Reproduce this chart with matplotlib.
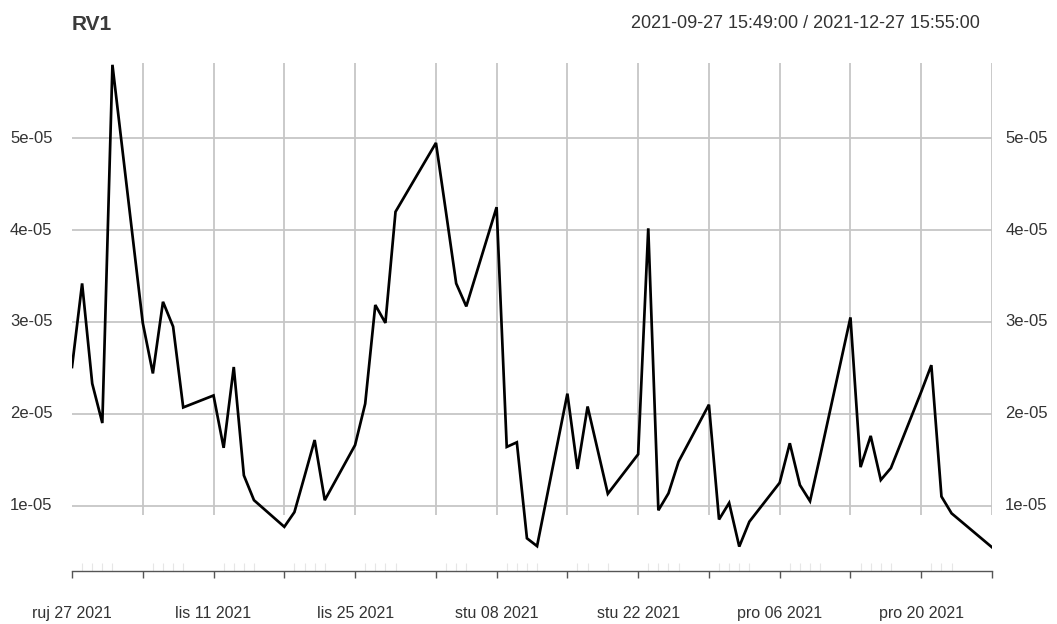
import matplotlib
matplotlib.use("Agg")
import matplotlib.pyplot as plt
import matplotlib.dates as mdates
import pandas as pd
import numpy as np

plt.rcParams['font.family'] = ['Liberation Sans', 'DejaVu Sans']

# ---------------- data ----------------
dates = ["2021-09-27", "2021-09-28", "2021-09-29", "2021-09-30", "2021-10-01",
         "2021-10-04", "2021-10-05", "2021-10-06", "2021-10-07", "2021-10-08",
         "2021-10-11", "2021-10-12", "2021-10-13", "2021-10-14", "2021-10-15",
         "2021-10-18", "2021-10-19", "2021-10-20", "2021-10-21", "2021-10-22",
         "2021-10-25", "2021-10-26", "2021-10-27", "2021-10-28", "2021-10-29",
         "2021-11-02", "2021-11-03", "2021-11-04", "2021-11-05",
         "2021-11-08", "2021-11-09", "2021-11-10", "2021-11-11", "2021-11-12",
         "2021-11-15", "2021-11-16", "2021-11-17", "2021-11-19",
         "2021-11-22", "2021-11-23", "2021-11-24", "2021-11-25", "2021-11-26",
         "2021-11-29", "2021-11-30", "2021-12-01", "2021-12-02", "2021-12-03",
         "2021-12-06", "2021-12-07", "2021-12-08", "2021-12-09", "2021-12-10",
         "2021-12-13", "2021-12-14", "2021-12-15", "2021-12-16", "2021-12-17",
         "2021-12-20", "2021-12-21", "2021-12-22", "2021-12-23", "2021-12-27"]

rv1 = [2.51e-5, 3.42e-5, 2.33e-5, 1.90e-5, 5.80e-5,
       2.99e-5, 2.44e-5, 3.22e-5, 2.95e-5, 2.07e-5,
       2.20e-5, 1.63e-5, 2.51e-5, 1.33e-5, 1.06e-5,
       0.77e-5, 0.93e-5, 1.32e-5, 1.715e-5, 1.06e-5,
       1.66e-5, 2.11e-5, 3.185e-5, 2.99e-5, 4.20e-5,
       4.95e-5, 4.19e-5, 3.42e-5, 3.17e-5,
       4.25e-5, 1.64e-5, 1.69e-5, 0.645e-5, 0.56e-5,
       2.22e-5, 1.40e-5, 2.08e-5, 1.13e-5,
       1.56e-5, 4.02e-5, 0.95e-5, 1.135e-5, 1.48e-5,
       2.10e-5, 0.85e-5, 1.03e-5, 0.555e-5, 0.826e-5,
       1.25e-5, 1.68e-5, 1.225e-5, 1.05e-5, 1.54e-5,
       3.05e-5, 1.42e-5, 1.76e-5, 1.28e-5, 1.41e-5,
       2.24e-5, 2.53e-5, 1.10e-5, 0.917e-5, 0.547e-5]

y_ticks = [1e-5, 2e-5, 3e-5, 4e-5, 5e-5]
y_tick_labels = ["1e-05", "2e-05", "3e-05", "4e-05", "5e-05"]
month_abbr = ["sij", "velj", "ožu", "tra", "svi", "lip",
              "srp", "kol", "ruj", "lis", "stu", "pro"]
series_name = "RV1"
range_text = "2021-09-27 15:49:00 / 2021-12-27 15:55:00"

# ---------------- layout ----------------
W, H = 1057, 624
fig = plt.figure(figsize=(W / 100, H / 100), dpi=100)
left_px, right_px, top_px, bottom_px = 72, 992, 63, 571
ax = fig.add_axes([left_px / W, 1 - bottom_px / H,
                   (right_px - left_px) / W, (bottom_px - top_px) / H])

t = pd.to_datetime(dates) + pd.Timedelta(hours=15, minutes=50)
x = mdates.date2num(t.to_pydatetime())

# y scale: 1e-05 at px 505.7, 91.85 px per 1e-05
px_per = 91.85 / 1e-5
y_top = 1e-5 + (505.7 - top_px) / px_per
y_bot = 1e-5 - (bottom_px - 505.7) / px_per
grid_bot = 1e-5 - (515 - 505.7) / px_per
ax.set_xlim(x[0], x[-1])
ax.set_ylim(y_bot, y_top)

# major ticks: first observation of each week
wk = t.to_period('W')
first_idx = [i for i in range(len(t)) if i == 0 or wk[i] != wk[i - 1]]
major_x = x[first_idx]
major_labels = []
for k, i in enumerate(first_idx):
    if k % 2 == 0:
        d = t[i]
        major_labels.append(f"{month_abbr[d.month - 1]} {d.day:02d} {d.year}")
    else:
        major_labels.append("")

grid_col = "#c6c6c6"
ax.hlines(y_ticks, x[0], x[-1], colors=grid_col, lw=1.3, zorder=1)
ax.vlines(major_x[1:], grid_bot, y_top, colors=grid_col, lw=1.3, zorder=1)

ax.plot(x, rv1, color="black", lw=1.95, solid_joinstyle="miter", zorder=3)

for s in ["top", "left", "right"]:
    ax.spines[s].set_visible(False)
ax.spines["bottom"].set_color("#555555")
ax.spines["bottom"].set_linewidth(1.0)

ax.set_xticks(major_x)
ax.set_xticklabels(major_labels)
ax.set_xticks(x, minor=True)
ax.tick_params(axis="x", which="major", direction="out", length=5,
               width=1.0, color="#555555", pad=20, labelsize=11.5,
               labelcolor="#333333")
ax.tick_params(axis="x", which="minor", direction="in", length=5.5,
               width=0.8, color="#e6e6e6")
ax.set_yticks([])

for yv, lab in zip(y_ticks, y_tick_labels):
    ax.annotate(lab, xy=(0, yv), xycoords=("axes fraction", "data"),
                xytext=(-14, 0), textcoords="offset points",
                ha="right", va="center", fontsize=12, color="#333333")
    ax.annotate(lab, xy=(1, yv), xycoords=("axes fraction", "data"),
                xytext=(9.5, 0), textcoords="offset points",
                ha="left", va="center", fontsize=12, color="#333333")

fig.text(72 / W, 1 - 25 / H, series_name, fontsize=15, fontweight="bold",
         color="#3a3a3a", ha="left", va="center")
fig.text(980 / W, 1 - 23 / H, range_text, fontsize=13, color="#333333",
         ha="right", va="center")

fig.savefig("out.png", dpi=100)
